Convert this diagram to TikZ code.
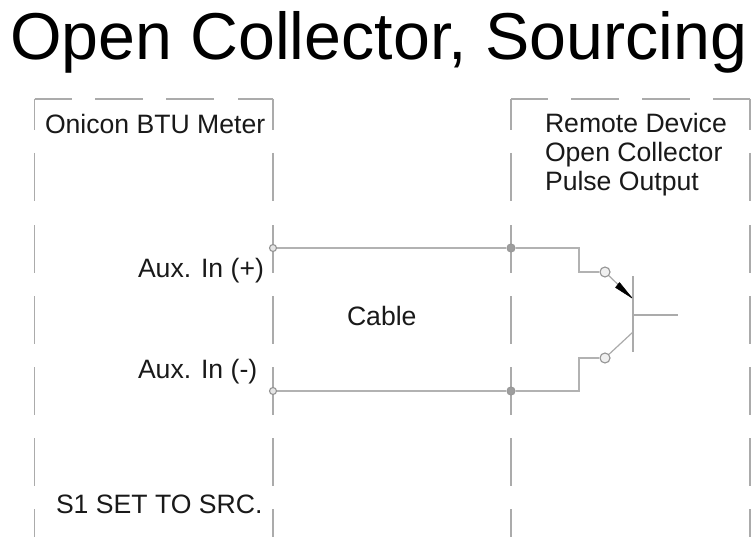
\documentclass[tikz,border=0pt]{standalone}
\usepackage{fontspec}
\setmainfont{Liberation Sans}
\usetikzlibrary{arrows.meta}
\tikzset{
  x=1pt,y=-1pt,
  bdry/.style={draw=black!33,line width=1.6pt},
  wire/.style={draw=black!30,line width=1.8pt},
  thin wire/.style={draw=black!33,line width=1.2pt},
  lbl/.style={anchor=base west,inner sep=0pt,outer sep=0pt,text=black!90,font=\fontsize{26.6}{30}\selectfont},
  ttl/.style={anchor=base west,inner sep=0pt,outer sep=0pt,text=black,font=\fontsize{66.3}{72}\selectfont},
  term/.style={circle,draw=black!42,line width=1.1pt,fill=black!10,inner sep=0pt,minimum size=7pt},
  jnc/.style={circle,draw=black!40,line width=1.1pt,fill=black!38,inner sep=0pt,minimum size=8pt},
  bterm/.style={circle,draw=black!42,line width=1.1pt,fill=black!6,inner sep=0pt,minimum size=10pt},
}
\newcommand{\sideV}[1]{%
  \draw[bdry] (#1,99) -- (#1,130);
  \foreach \yy in {153,225,296,367,438}{\draw[bdry] (#1,\yy) -- (#1,\yy+48);}
  \draw[bdry] (#1,509) -- (#1,537);
}
\begin{document}
\begin{tikzpicture}
\useasboundingbox[fill=white] (0,0) rectangle (751,537);
% boxes
\sideV{34.5}\sideV{273}\sideV{511}\sideV{750}
\foreach \a/\b in {34.5/72,95/143,166/214,238/273,511/548,571/619,642/690,713/750}{\draw[bdry] (\a,99) -- (\b,99);}
% texts
\node[ttl] (title) at (10,60) {Open Collector, Sourcing};
\node[lbl] (meter) at (45,134) {Onicon BTU Meter};
\node[lbl] (rem1) at (545,133) {Remote Device};
\node[lbl] (rem2) at (545,162) {Open Collector};
\node[lbl] (rem3) at (545,191) {Pulse Output};
\node[lbl] (auxp) at (138,277) {Aux. In (+)};
\node[lbl] (auxm) at (138,378) {Aux. In (-)};
\node[lbl] (cable) at (347,325) {Cable};
\node[lbl] (s1) at (56,513) {S1 SET TO SRC.};
% terminals
\node[term] (tp) at (273,248) {};
\node[term] (tm) at (273,391) {};
\node[jnc] (jp) at (511,248) {};
\node[jnc] (jm) at (511,391) {};
\node[bterm] (be) at (605,272) {};
\node[bterm] (bc) at (605,358) {};
\coordinate (e) at (632,298);
\coordinate (c) at (633,332);
\coordinate (bt) at (633,276);
\coordinate (bb) at (633,352);
\coordinate (bm) at (633,315);
\coordinate (bo) at (678,315);
% wires
\draw[wire] (tp) -- (jp);
\draw[wire] (tm) -- (jm);
\draw[wire] (jp) -| (579,272) -- (be);
\draw[wire] (jm) -| (579,358) -- (bc);
\draw[thin wire] (bt) -- (bb);
\draw[thin wire] (bm) -- (bo);
\draw[thin wire] (be) -- (e);
\draw[thin wire] (bc) -- (c);
\fill[black,draw=black,line width=0.5pt,line join=round] (615.5,287.5) -- (619.5,282.5) -- (632,298) -- cycle;
\end{tikzpicture}
\end{document}
